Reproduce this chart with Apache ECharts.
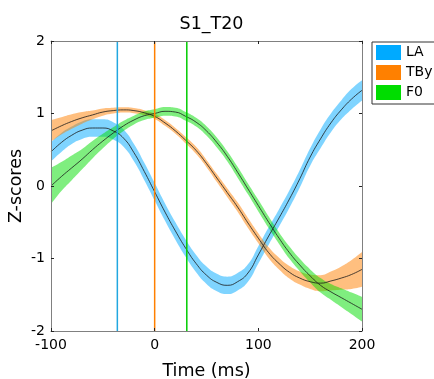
<!DOCTYPE html>
<html><head><meta charset="utf-8">
<script src="https://cdn.jsdelivr.net/npm/echarts@6/dist/echarts.min.js"></script>
<style>html,body{margin:0;padding:0;background:#fff}#c{width:434px;height:379px}</style>
</head><body><div id="c"></div>
<script>
const times = [-100,-90,-80,-70,-60,-50,-40,-30,-20,-10,0,10,20,30,40,50,60,70,80,90,100,110,120,130,140,150,160,170,180,190,200];

const laMean = [0.47,0.60,0.70,0.77,0.80,0.80,0.76,0.66,0.46,0.20,-0.08,-0.36,-0.62,-0.86,-1.07,-1.23,-1.33,-1.37,-1.32,-1.20,-0.95,-0.69,-0.44,-0.18,0.10,0.40,0.65,0.87,1.05,1.20,1.32];
const laHalf = [0.13,0.13,0.12,0.12,0.12,0.12,0.12,0.12,0.12,0.12,0.12,0.12,0.12,0.12,0.12,0.12,0.12,0.12,0.12,0.12,0.12,0.12,0.12,0.12,0.12,0.12,0.13,0.13,0.13,0.14,0.14];

const tbyMean = [0.76,0.83,0.89,0.94,0.98,1.02,1.04,1.05,1.04,1.01,0.96,0.87,0.76,0.63,0.49,0.31,0.11,-0.09,-0.29,-0.51,-0.72,-0.92,-1.07,-1.19,-1.27,-1.32,-1.34,-1.31,-1.27,-1.22,-1.15];
const tbyHalf = [0.15,0.12,0.10,0.08,0.06,0.05,0.04,0.035,0.035,0.035,0.035,0.04,0.04,0.045,0.05,0.05,0.055,0.06,0.065,0.07,0.07,0.075,0.08,0.085,0.09,0.10,0.11,0.13,0.16,0.20,0.24];

const f0Mean = [0.00,0.13,0.25,0.37,0.50,0.62,0.73,0.83,0.91,0.97,1.00,1.03,1.02,0.96,0.88,0.76,0.60,0.41,0.19,-0.04,-0.27,-0.50,-0.72,-0.92,-1.09,-1.24,-1.37,-1.46,-1.54,-1.62,-1.70];
const f0Half = [0.25,0.20,0.17,0.14,0.12,0.10,0.08,0.07,0.06,0.06,0.06,0.06,0.06,0.06,0.06,0.065,0.07,0.07,0.075,0.075,0.08,0.08,0.08,0.085,0.085,0.09,0.10,0.11,0.13,0.15,0.17];

const seriesNames = ['LA','TBy','F0'];
const markerTimes = [-36, 0, 31];
const yTicks = [-2,-1,0,1,2];
const xTicks = [-100,0,100,200];

const colors = ['#00AAFF','#FF8000','#00DD00'];
const bandColors = ['rgba(0,170,255,0.5)','rgba(255,128,0,0.5)','rgba(0,221,0,0.5)'];
const markerColors = ['#22A7E0','#FF8000','#00CC00'];
const FONT = 'DejaVu Sans';

// band + mean series live on a hidden category axis (index 2) whose categories are the sample times
function bandSeries(name, mean, half, color, bandColor) {
  const lo = mean.map((m,i)=>m-half[i]);
  const w = half.map(h=>2*h);
  return [
    {name: name+'_lo', type:'line', xAxisIndex:2, data: lo, stack: name, stackStrategy:'all', symbol:'none', smooth:true,
     lineStyle:{opacity:0, width:0}, silent:true, z:1},
    {name: name, type:'line', xAxisIndex:2, data: w, stack: name, stackStrategy:'all', symbol:'none', smooth:true,
     lineStyle:{opacity:0, width:0}, areaStyle:{color: bandColor, opacity:1}, itemStyle:{color: color}, color: color, z:1}
  ];
}
function meanSeries(name, mean) {
  return {name: name+'_mean', type:'line', xAxisIndex:2, data: mean, symbol:'none', smooth:true,
    lineStyle:{color:'#1a1a1a', width:0.8}, silent:true, z:3};
}
function markerSeries(t, color) {
  return {name:'m'+t, type:'line', xAxisIndex:0, data:[[t, yTicks[0]],[t, yTicks[yTicks.length-1]]], symbol:'none',
    lineStyle:{color: color, width:1.5}, silent:true, z:4};
}

const means = [laMean, tbyMean, f0Mean];
const halves = [laHalf, tbyHalf, f0Half];
let series = [];
seriesNames.forEach((n,i)=>{ series = series.concat(bandSeries(n, means[i], halves[i], colors[i], bandColors[i])); });
seriesNames.forEach((n,i)=>{ series.push(meanSeries(n, means[i])); });
markerTimes.forEach((t,i)=>{ series.push(markerSeries(t, markerColors[i])); });

const axisLineStyle = {color:'#808080', width:1};
const tickStyle = {inside:true, length:3, lineStyle:{color:'#222'}};

const option = {
  animation:false,
  backgroundColor:'#fff',
  textStyle:{fontFamily:FONT},
  title:{text:'S1_T20', left:206.5, textAlign:'center', top:10,
    textStyle:{fontFamily:FONT, fontSize:17.5, fontWeight:'normal', color:'#000'}},
  grid:{left:51, right:72, top:41, bottom:48, containLabel:false, outerBoundsMode:'none'},
  legend:{orient:'vertical', left:372, top:42, padding:[3,40,4,4], itemGap:5, itemWidth:25, itemHeight:15,
    icon:'rect', borderColor:'#333', borderWidth:1, selectedMode:false,
    textStyle:{fontFamily:FONT, fontSize:14, color:'#000'},
    data: seriesNames.map((n,i)=>({name:n, itemStyle:{color:colors[i], opacity:1}}))},
  xAxis:[
    {type:'value', min:xTicks[0], max:xTicks[xTicks.length-1], interval:100, position:'bottom',
     axisLine:{show:true, onZero:false, lineStyle:axisLineStyle}, axisTick:tickStyle,
     axisLabel:{fontFamily:FONT, fontSize:14, color:'#000', margin:7}, splitLine:{show:false},
     name:'Time (ms)', nameLocation:'middle', nameGap:31, nameMoveOverlap:false,
     nameTextStyle:{fontFamily:FONT, fontSize:17.5, color:'#000'}, z:5},
    {type:'value', min:xTicks[0], max:xTicks[xTicks.length-1], interval:100, position:'top',
     axisLine:{show:true, onZero:false, lineStyle:axisLineStyle}, axisTick:tickStyle, axisLabel:{show:false}, splitLine:{show:false}, z:5},
    {type:'category', data: times.map(String), boundaryGap:false, show:false, position:'bottom',
     axisLine:{onZero:false}}
  ],
  yAxis:[
    {type:'value', min:yTicks[0], max:yTicks[yTicks.length-1], interval:1, position:'left',
     axisLine:{show:true, onZero:false, lineStyle:axisLineStyle}, axisTick:tickStyle,
     axisLabel:{fontFamily:FONT, fontSize:14, color:'#000', margin:6}, splitLine:{show:false},
     name:'Z-scores', nameLocation:'middle', nameGap:26, nameMoveOverlap:false,
     nameTextStyle:{fontFamily:FONT, fontSize:17.5, color:'#000'}, z:5},
    {type:'value', min:yTicks[0], max:yTicks[yTicks.length-1], interval:1, position:'right',
     axisLine:{show:true, onZero:false, lineStyle:axisLineStyle}, axisTick:tickStyle, axisLabel:{show:false}, splitLine:{show:false}, z:5}
  ],
  series: series
};
const chart = echarts.init(document.getElementById('c'), null, {renderer:'canvas'});
chart.setOption(option);
</script>
</body></html>
